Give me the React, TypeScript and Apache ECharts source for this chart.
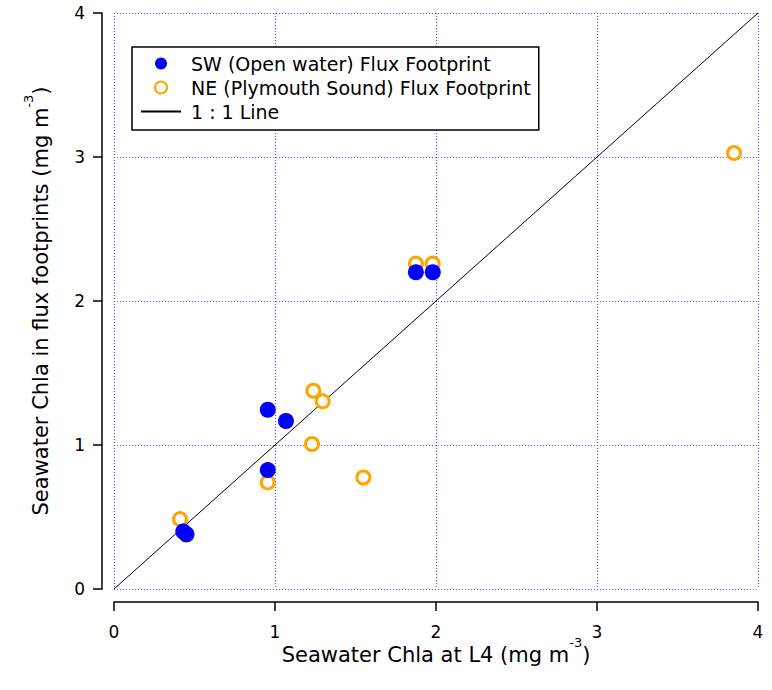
import React, { useEffect, useRef } from "react";
import * as echarts from "echarts";

const swX = [0.43, 0.45, 0.955, 0.955, 1.068, 1.875, 1.98];
const swY = [0.40, 0.38, 0.826, 1.245, 1.167, 2.20, 2.20];
const neX = [0.41, 0.45, 0.955, 1.23, 1.238, 1.296, 1.549, 1.875, 1.979, 3.851];
const neY = [0.485, 0.376, 0.74, 1.007, 1.377, 1.303, 0.774, 2.259, 2.259, 3.028];
const lineX = [0, 4];
const lineY = [0, 4];
const ticks = [0, 1, 2, 3, 4];

const FONT = "DejaVu Sans";

export default function App() {
  const ref = useRef<HTMLDivElement>(null);
  useEffect(() => {
    document.body.style.margin = "0";
    const chart = echarts.init(ref.current!, null, { renderer: "svg" });
    const axisCommon = {
      type: "value" as const,
      min: ticks[0],
      max: ticks[ticks.length - 1],
      interval: 1,
      axisLine: { show: true, onZero: false, lineStyle: { color: "#000", width: 1.5 } },
      axisTick: { show: true, inside: false, length: 9, lineStyle: { color: "#000", width: 1.5 } },
      axisLabel: { color: "#000", fontSize: 17, fontFamily: FONT },
      splitLine: { show: true, lineStyle: { color: "#5a5aff", type: [1, 2], width: 1.2 } },
    };
    const rich = {
      t: { fontSize: 21, fontFamily: FONT, color: "#000", lineHeight: 29, verticalAlign: "bottom" },
      s: { fontSize: 13, fontFamily: FONT, color: "#000", lineHeight: 29, verticalAlign: "top" },
    };
    chart.setOption({
      animation: false,
      backgroundColor: "#fff",
      textStyle: { fontFamily: FONT },
      grid: { left: 114, right: 14, top: 13, bottom: 101, containLabel: false },
      xAxis: {
        ...axisCommon,
        offset: 13,
        axisLabel: { ...axisCommon.axisLabel, margin: 21 },
        name: "{t|Seawater Chla at L4 (mg m}{s|-3}{t|)}",
        nameLocation: "middle",
        nameGap: 34,
        nameMoveOverlap: false,
        nameTextStyle: { rich },
      },
      yAxis: {
        ...axisCommon,
        offset: 12,
        axisLabel: { ...axisCommon.axisLabel, margin: 17 },
        name: "{t|Seawater Chla in flux footprints (mg m}{s|-3}{t|)}",
        nameLocation: "middle",
        nameGap: 51,
        nameMoveOverlap: false,
        nameTextStyle: { rich },
      },
      legend: {
        orient: "vertical",
        left: 132,
        top: 47,
        backgroundColor: "#fff",
        borderColor: "#000",
        borderWidth: 1.5,
        borderRadius: 0,
        padding: [7, 8, 9, 8],
        itemGap: 5,
        itemWidth: 40,
        itemHeight: 12,
        textStyle: { fontSize: 19, fontFamily: FONT, color: "#000", padding: [0, 0, 0, 5] },
        data: [
          { name: "SW (Open water) Flux Footprint" },
          { name: "NE (Plymouth Sound) Flux Footprint" },
          { name: "1 : 1 Line", itemStyle: { opacity: 0 } },
        ],
      },
      series: [
        {
          name: "1 : 1 Line",
          type: "line",
          data: lineX.map((x, i) => [x, lineY[i]]),
          symbol: "none",
          showSymbol: false,
          lineStyle: { color: "#000", width: 1 },
          z: 1,
        },
        {
          name: "NE (Plymouth Sound) Flux Footprint",
          type: "scatter",
          data: neX.map((x, i) => [x, neY[i]]),
          symbol: "circle",
          symbolSize: 13,
          itemStyle: { color: "#fff", borderColor: "#ffa500", borderWidth: 3, opacity: 1 },
          z: 2,
        },
        {
          name: "SW (Open water) Flux Footprint",
          type: "scatter",
          data: swX.map((x, i) => [x, swY[i]]),
          symbol: "circle",
          symbolSize: 16,
          itemStyle: { color: "#0000ff", opacity: 1 },
          z: 3,
        },
      ],
    });
    return () => chart.dispose();
  }, []);
  return <div ref={ref} style={{ width: 772, height: 690 }} />;
}
